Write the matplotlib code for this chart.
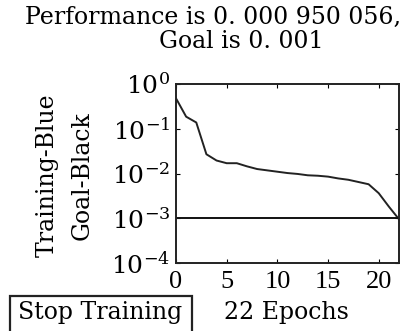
import matplotlib
matplotlib.use("Agg")
import matplotlib.pyplot as plt
from matplotlib.patches import Rectangle
from matplotlib.ticker import LogLocator, FixedLocator, NullLocator

plt.rcParams['font.family'] = ['DejaVu Serif']
plt.rcParams['mathtext.fontset'] = 'custom'
plt.rcParams['mathtext.rm'] = 'Liberation Serif'
plt.rcParams['mathtext.it'] = 'Liberation Serif:italic'

epochs = list(range(23))
log_perf = [-0.32, -0.73, -0.86, -1.57, -1.71, -1.77, -1.77, -1.84, -1.90, -1.93,
            -1.96, -1.99, -2.01, -2.04, -2.05, -2.07, -2.11, -2.14, -2.19, -2.24,
            -2.44, -2.74, -3.022]
perf = [10 ** v for v in log_perf]
goal = 0.001
title1 = "Performance is 0. 000 950 056,"
title2 = "Goal is 0. 001"
ylabel1 = "Training-Blue"
ylabel2 = "Goal-Black"
xlabel = "22 Epochs"
button = "Stop Training"
xticks = [0, 5, 10, 15, 20]

W, H = 412, 331
fig = plt.figure(figsize=(W / 100, H / 100), dpi=100)
ax = fig.add_axes([176 / W, 1 - 263 / H, (399 - 176) / W, (263 - 84) / H])

ax.plot(epochs, perf, color='#222222', lw=1.4)
ax.axhline(goal, color='#111111', lw=1.4)
ax.set_yscale('log')
ax.set_xlim(0, 22)
ax.set_ylim(1e-4, 1e0)
ax.xaxis.set_major_locator(FixedLocator(xticks))
ax.yaxis.set_major_locator(LogLocator(base=10, numticks=10))
ax.yaxis.set_minor_locator(NullLocator())
ax.tick_params(direction='in', top=True, right=True, length=3, width=0.8,
               labelsize=18, pad=4)
ax.tick_params(axis='x', labelsize=19, pad=6)
for lab in ax.get_xticklabels():
    lab.set_fontfamily('Liberation Serif')
for s in ax.spines.values():
    s.set_linewidth(1.4)
    s.set_color('#222222')

fs = 17
fig.text(213 / W, 1 - 17 / H, title1, ha='center', va='center', fontsize=fs)
fig.text(241 / W, 1 - 42 / H, title2, ha='center', va='center', fontsize=fs)
fig.text(47 / W, 1 - 175 / H, ylabel1, rotation=90, ha='center', va='center', fontsize=fs)
fig.text(82 / W, 1 - 176 / H, ylabel2, rotation=90, ha='center', va='center', fontsize=fs)
fig.text(286 / W, 1 - 312 / H, xlabel, ha='center', va='center', fontsize=fs)
fig.text(100 / W, 1 - 313 / H, button, ha='center', va='center', fontsize=fs)
fig.add_artist(Rectangle((10 / W, 1 - 340 / H), 182 / W, 44 / H,
                         transform=fig.transFigure, fill=False,
                         ec='#222222', lw=1.6))

fig.savefig("out.png", dpi=100)
